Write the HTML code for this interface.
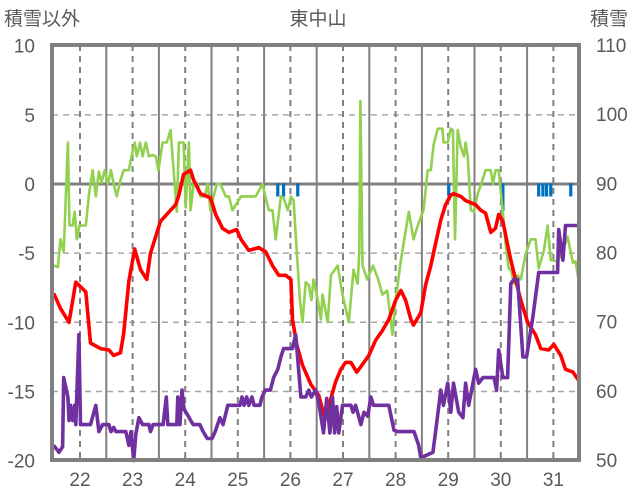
<!DOCTYPE html>
<html><head><meta charset="utf-8"><style>
html,body{margin:0;padding:0;background:#fff;width:636px;height:501px;overflow:hidden}
svg text{font-family:"Liberation Sans","Noto Sans CJK JP",sans-serif;fill:#595959;font-size:19px}
</style></head><body>
<svg id="chart" width="636" height="501" xmlns="http://www.w3.org/2000/svg"></svg>
<script>
const dayTicks=[22,23,24,25,26,27,28,29,30,31];
const leftTicks=[10,5,0,-5,-10,-15,-20];
const rightTicks=[110,100,90,80,70,60,50];
const redT=[21.50,21.63,21.79,21.92,22.11,22.20,22.39,22.55,22.64,22.77,22.83,22.93,23.04,23.15,23.27,23.34,23.53,23.72,23.82,23.88,23.97,24.10,24.16,24.29,24.48,24.58,24.71,24.83,24.98,25.06,25.21,25.40,25.53,25.66,25.78,25.91,26.01,26.04,26.12,26.23,26.39,26.54,26.61,26.67,26.77,26.86,26.96,27.05,27.15,27.26,27.34,27.49,27.62,27.75,27.87,28.00,28.10,28.19,28.29,28.34,28.48,28.57,28.67,28.76,28.86,28.95,29.05,29.10,29.24,29.33,29.52,29.62,29.71,29.81,29.90,29.96,30.04,30.13,30.19,30.28,30.38,30.51,30.66,30.76,30.91,31.01,31.14,31.23,31.37,31.48];
const redV=[-7.9,-9.0,-10.0,-7.1,-7.8,-11.5,-11.9,-12.0,-12.4,-12.2,-10.8,-7.0,-4.7,-6.2,-6.9,-5.0,-2.7,-1.9,-1.5,-0.8,0.7,1.0,0.3,-0.7,-1.0,-2.2,-3.2,-3.5,-3.3,-4.0,-4.8,-4.6,-4.9,-5.9,-6.6,-6.6,-6.9,-9.8,-11.6,-13.1,-14.5,-15.3,-16.3,-17.0,-15.5,-14.3,-13.4,-12.9,-12.9,-13.6,-13.2,-12.4,-11.3,-10.6,-9.8,-8.4,-7.7,-8.4,-9.8,-10.2,-9.3,-7.3,-5.9,-4.3,-2.6,-1.5,-0.8,-0.7,-0.9,-1.2,-1.5,-1.9,-2.1,-3.5,-3.2,-2.2,-2.7,-4.4,-5.5,-6.9,-8.4,-10.0,-10.9,-11.9,-12.0,-11.6,-12.4,-13.4,-13.6,-14.2];
const greenT=[21.50,21.58,21.63,21.69,21.77,21.80,21.86,21.90,21.94,21.99,22.11,22.17,22.24,22.30,22.36,22.41,22.47,22.53,22.59,22.64,22.70,22.77,22.83,22.93,22.98,23.04,23.08,23.14,23.19,23.25,23.31,23.38,23.44,23.49,23.57,23.65,23.72,23.78,23.84,23.88,23.97,24.01,24.07,24.10,24.16,24.24,24.29,24.37,24.43,24.48,24.54,24.60,24.67,24.77,24.83,24.90,25.06,25.34,25.47,25.53,25.59,25.66,25.72,25.82,25.87,25.95,26.01,26.06,26.12,26.18,26.23,26.29,26.35,26.40,26.44,26.52,26.58,26.61,26.71,26.77,26.90,26.99,27.11,27.20,27.28,27.31,27.33,27.37,27.46,27.57,27.67,27.75,27.84,27.94,28.00,28.10,28.25,28.34,28.44,28.53,28.61,28.67,28.72,28.80,28.89,28.91,28.99,29.05,29.09,29.13,29.18,29.24,29.30,29.33,29.37,29.43,29.49,29.56,29.62,29.71,29.81,29.85,29.90,29.96,30.04,30.09,30.15,30.19,30.25,30.32,30.38,30.47,30.57,30.66,30.72,30.82,30.89,30.95,31.08,31.18,31.27,31.37,31.42,31.48];
const greenV=[-5.9,-6.0,-4.0,-4.9,3.0,-3.0,-3.0,-2.0,-4.0,-3.0,-3.0,-0.8,1.0,-0.9,0.9,0.1,1.0,0,1.0,0,-0.9,0.3,1.0,1.0,2.0,3.0,2.0,3.0,2.0,3.0,2.0,2.1,2.0,1.0,3.0,3.0,3.9,1.0,-2.0,3.0,3.0,-1.7,3.0,-1.9,0,0,-0.9,-0.9,0,-1.9,-0.9,0,0,-0.9,-0.9,-1.9,-0.9,-0.9,0,-1.0,-1.9,-1.9,-4.0,-0.9,-1.0,-1.9,-0.9,-1.2,-4.8,-8.4,-10.0,-7.1,-7.3,-8.4,-6.9,-8.4,-9.8,-8.0,-10.0,-6.6,-5.9,-8.0,-10.0,-6.2,-7.2,-4.8,6.0,-5.9,-6.9,-5.9,-6.9,-8.0,-7.7,-10.9,-8.4,-5.5,-2.0,-4.0,-2.8,-1.9,1.0,1.0,2.8,4.0,4.0,3.0,3.0,4.0,3.9,-4.0,3.9,2.7,2.0,3.0,2.0,-1.9,-2.0,-0.7,-0.1,1.0,1.0,0,1.0,1.0,-2.1,-4.3,-6.1,-6.2,-7.2,-6.6,-6.9,-5.1,-4.0,-4.0,-6.1,-4.8,-3.0,-5.5,-5.6,-4.8,-3.8,-5.7,-5.6,-6.9];
const purpleT=[21.50,21.60,21.67,21.69,21.77,21.79,21.82,21.86,21.90,21.92,21.98,22.01,22.20,22.30,22.36,22.43,22.55,22.59,22.64,22.68,22.87,22.93,22.97,23.02,23.06,23.12,23.19,23.31,23.34,23.39,23.58,23.64,23.67,23.84,23.86,23.90,23.94,23.98,24.03,24.15,24.28,24.34,24.42,24.51,24.57,24.66,24.72,24.81,25.04,25.08,25.12,25.17,25.21,25.27,25.31,25.42,25.46,25.52,25.62,25.68,25.76,25.82,25.87,26.04,26.10,26.20,26.29,26.35,26.40,26.48,26.54,26.63,26.69,26.75,26.80,26.84,26.88,26.92,26.99,27.15,27.19,27.24,27.34,27.40,27.47,27.53,27.58,27.87,27.97,28.04,28.35,28.44,28.48,28.71,28.76,28.86,28.91,28.99,29.05,29.10,29.20,29.28,29.33,29.39,29.52,29.58,29.66,29.87,29.92,29.96,30.04,30.13,30.19,30.25,30.32,30.42,30.49,30.61,30.72,31.08,31.10,31.18,31.23,31.48];
const purpleV=[-18.9,-19.4,-19.0,-14.0,-15.4,-17.1,-16.0,-17.1,-16.0,-17.4,-10.9,-17.4,-17.4,-16.0,-17.9,-17.4,-17.4,-17.9,-17.6,-17.9,-17.9,-18.9,-17.9,-20,-18.1,-16.9,-17.4,-17.4,-17.9,-17.4,-17.4,-15.4,-17.4,-17.4,-15.4,-17.4,-14.9,-16.3,-16.6,-17.4,-17.4,-17.9,-18.4,-18.4,-17.9,-16.9,-17.4,-16.0,-16.0,-15.4,-16.0,-15.4,-16.0,-15.4,-16.0,-16.0,-15.4,-14.9,-14.9,-14.0,-13.4,-12.5,-11.9,-11.9,-10.9,-15.4,-15.4,-14.9,-15.4,-14.9,-15.8,-18.0,-15.5,-18.0,-15.4,-18.0,-16.1,-18.0,-16.0,-16.0,-16.5,-16.0,-17.4,-16.5,-16.8,-15.4,-16.0,-16.0,-17.8,-17.9,-17.9,-18.9,-19.8,-19.4,-17.9,-14.9,-16.0,-14.4,-16.5,-14.4,-16.5,-16.9,-14.4,-16.0,-13.4,-14.4,-14.0,-14.0,-14.9,-12.0,-14.0,-14.0,-7.2,-6.9,-6.9,-12.5,-12.5,-9.6,-6.4,-6.4,-3.3,-5.5,-3.0,-3.0];
const snowT=[25.76,25.87,26.14,29.01,30.04,30.72,30.80,30.87,30.95,31.33];
const snowV=[88.1,88.1,88.1,88.1,86.0,88.1,88.1,88.1,88.1,88.1];

const NS='http://www.w3.org/2000/svg';
const svg=document.getElementById('chart');
const L=52,R=579,T=45,B=460;
const xs=t=>80+(t-22)*52.6;
const yl=v=>184-v*13.83;
const yr=v=>T+(110-v)*(B-T)/60;
function el(tag,attrs,parent){const e=document.createElementNS(NS,tag);for(const k in attrs)e.setAttribute(k,attrs[k]);(parent||svg).appendChild(e);return e;}

const grid=el('g',{});


leftTicks.forEach(v=>{if(v===10||v===-20||v===0)return;
  const g=el('line',{x1:L,x2:R,y1:yl(v),y2:yl(v),stroke:'#a6a6a6','stroke-width':1.5,'stroke-dasharray':'6,5'},grid);
  
  });
dayTicks.forEach(d=>{
  const a=el('line',{x1:xs(d),x2:xs(d),y1:T,y2:B,stroke:'#808080','stroke-width':2,'stroke-dasharray':'6,5'},grid);
  
  
  if(d<31){const b=el('line',{x1:xs(d+0.5),x2:xs(d+0.5),y1:T,y2:B,stroke:'#808080','stroke-width':2},grid);
  
  }
});
const z=el('line',{x1:L,x2:R,y1:yl(0),y2:yl(0),stroke:'#808080','stroke-width':3});



snowT.forEach((t,i)=>{
  const r=el('rect',{x:xs(t)-1.6,y:yr(90),width:3.2,height:yr(snowV[i])-yr(90),fill:'#0070c0'});
  
  
});
function line(ts,vs,color,w,name){
  const p=el('polyline',{points:ts.map((t,i)=>xs(t).toFixed(1)+','+yl(vs[i]).toFixed(1)).join(' '),fill:'none',stroke:color,'stroke-width':w,'stroke-linejoin':'round'});
  
  
}
line(greenT,greenV,'#92d050',2.6,'green-series-line');
line(redT,redV,'#ff0000',3.6,'red-series-line');
line(purpleT,purpleV,'#7030a0',3.6,'purple-series-line');

const fr=el('rect',{x:L,y:T,width:R-L,height:B-T,fill:'none',stroke:'#808080','stroke-width':4});



leftTicks.forEach(v=>{const t=el('text',{x:35,y:yl(v)+7,'text-anchor':'end'});t.textContent=v;
  
  });
rightTicks.forEach(v=>{const t=el('text',{x:596,y:yr(v)+7});t.textContent=v;
  
  });
dayTicks.forEach(d=>{const t=el('text',{x:xs(d),y:486,'text-anchor':'middle'});t.textContent=d;
  
  });
const t1=el('text',{x:318,y:25,'text-anchor':'middle'});t1.textContent='東中山';


const t2=el('text',{x:4,y:25});t2.textContent='積雪以外';


const t3=el('text',{x:590,y:25});t3.textContent='積雪';


</script>
</body></html>
